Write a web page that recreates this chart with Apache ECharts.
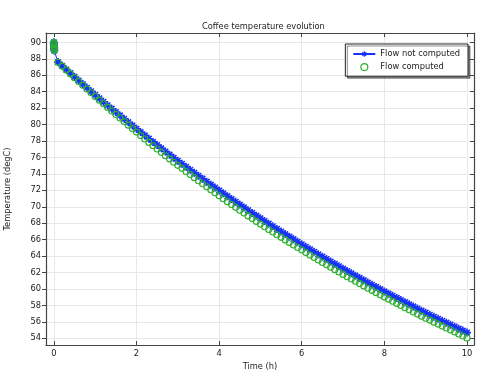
<!DOCTYPE html>
<html>
<head>
<meta charset="utf-8">
<script src="https://cdn.jsdelivr.net/npm/echarts@6/dist/echarts.min.js"></script>
<style>
  html, body { margin: 0; padding: 0; background: #fff; }
  #chart { width: 498px; height: 378px; }
</style>
</head>
<body>
<div id="chart"></div>
<script>
// time (h)
const times = [
  0, 0.001, 0.002, 0.004, 0.006, 0.008, 0.01,
  0.1, 0.2, 0.3, 0.4, 0.5, 0.6, 0.7, 0.8, 0.9, 1.0,
  1.1, 1.2, 1.3, 1.4, 1.5, 1.6, 1.7, 1.8, 1.9, 2.0,
  2.1, 2.2, 2.3, 2.4, 2.5, 2.6, 2.7, 2.8, 2.9, 3.0,
  3.1, 3.2, 3.3, 3.4, 3.5, 3.6, 3.7, 3.8, 3.9, 4.0,
  4.1, 4.2, 4.3, 4.4, 4.5, 4.6, 4.7, 4.8, 4.9, 5.0,
  5.1, 5.2, 5.3, 5.4, 5.5, 5.6, 5.7, 5.8, 5.9, 6.0,
  6.1, 6.2, 6.3, 6.4, 6.5, 6.6, 6.7, 6.8, 6.9, 7.0,
  7.1, 7.2, 7.3, 7.4, 7.5, 7.6, 7.7, 7.8, 7.9, 8.0,
  8.1, 8.2, 8.3, 8.4, 8.5, 8.6, 8.7, 8.8, 8.9, 9.0,
  9.1, 9.2, 9.3, 9.4, 9.5, 9.6, 9.7, 9.8, 9.9, 10.0
];
// Flow not computed (degC)
const flowNotComputed = [
  90, 89.85, 89.7, 89.5, 89.3, 89.15, 89.0,
  87.60, 87.15, 86.70, 86.25, 85.80, 85.36, 84.92, 84.48, 84.05, 83.62,
  83.19, 82.77, 82.35, 81.93, 81.52, 81.11, 80.70, 80.29, 79.89, 79.48,
  79.08, 78.68, 78.28, 77.89, 77.50, 77.11, 76.72, 76.34, 75.96, 75.59,
  75.23, 74.86, 74.49, 74.13, 73.77, 73.41, 73.05, 72.69, 72.34, 71.98,
  71.63, 71.28, 70.94, 70.60, 70.26, 69.92, 69.58, 69.25, 68.92, 68.59,
  68.26, 67.94, 67.62, 67.30, 66.98, 66.67, 66.36, 66.05, 65.74, 65.43,
  65.12, 64.82, 64.52, 64.22, 63.92, 63.63, 63.34, 63.05, 62.76, 62.47,
  62.18, 61.90, 61.62, 61.34, 61.06, 60.78, 60.51, 60.24, 59.97, 59.70,
  59.43, 59.17, 58.91, 58.65, 58.39, 58.13, 57.87, 57.61, 57.36, 57.11,
  56.86, 56.61, 56.37, 56.13, 55.89, 55.65, 55.41, 55.17, 54.93, 54.69
];
// Flow computed (degC)
const flowComputed = [
  90, 89.85, 89.7, 89.5, 89.3, 89.15, 89.0,
  87.58, 87.11, 86.64, 86.17, 85.70, 85.24, 84.78, 84.32, 83.87, 83.42,
  82.97, 82.53, 82.09, 81.65, 81.22, 80.79, 80.36, 79.93, 79.51, 79.08,
  78.66, 78.25, 77.83, 77.43, 77.02, 76.62, 76.21, 75.82, 75.42, 75.04,
  74.67, 74.29, 73.91, 73.54, 73.17, 72.80, 72.43, 72.06, 71.70, 71.33,
  70.97, 70.62, 70.27, 69.93, 69.58, 69.24, 68.89, 68.56, 68.22, 67.89,
  67.56, 67.24, 66.92, 66.60, 66.28, 65.97, 65.66, 65.35, 65.04, 64.73,
  64.42, 64.12, 63.82, 63.52, 63.22, 62.93, 62.64, 62.35, 62.06, 61.77,
  61.49, 61.21, 60.93, 60.65, 60.37, 60.09, 59.82, 59.55, 59.28, 59.01,
  58.76, 58.50, 58.24, 57.98, 57.72, 57.46, 57.20, 56.94, 56.69, 56.44,
  56.21, 55.96, 55.72, 55.48, 55.24, 55.00, 54.76, 54.52, 54.28, 54.04
];
const xTicks = [0, 2, 4, 6, 8, 10];
const yTicks = [54, 56, 58, 60, 62, 64, 66, 68, 70, 72, 74, 76, 78, 80, 82, 84, 86, 88, 90];

const font = 'DejaVu Sans';
const axisColor = '#444';
const gridColor = '#e8e8e8';
const blue = '#1832f8';
const green = '#2db02d';
const xMin = -0.19, xMax = 10.17;
const yMin = 53.18, yMax = 91.14;
// asterisk marker (plus + cross) built from filled bars
const star = 'path://M4 0L6 0L6 10L4 10Z' +
  'M0 4L10 4L10 6L0 6Z' +
  'M0.8 2.2L2.2 0.8L9.2 7.8L7.8 9.2Z' +
  'M7.8 0.8L9.2 2.2L2.2 9.2L0.8 7.8Z';

const chart = echarts.init(document.getElementById('chart'));

const xBase = (pos, show) => ({
  type: 'value', position: pos, min: xMin, max: xMax,
  axisLine: { show: true, onZero: false, lineStyle: { color: axisColor, width: 1.2 } },
  axisTick: { show: true, inside: true, length: 4, customValues: xTicks, lineStyle: { color: axisColor } },
  axisLabel: { show: show, customValues: xTicks, margin: 5, color: '#222', fontFamily: font, fontSize: 8.3 },
  splitLine: { show: show, lineStyle: { color: gridColor, width: 1 } }
});
const yBase = (pos, show) => ({
  type: 'value', position: pos, min: yMin, max: yMax,
  axisLine: { show: true, onZero: false, lineStyle: { color: axisColor, width: 1.2 } },
  axisTick: { show: true, inside: !show, length: 4, customValues: yTicks, lineStyle: { color: axisColor } },
  axisLabel: { show: show, customValues: yTicks, margin: 5, color: '#222', fontFamily: font, fontSize: 8.3 },
  splitLine: { show: show, lineStyle: { color: gridColor, width: 1 } }
});

const option = {
  animation: false,
  backgroundColor: '#fff',
  title: {
    text: 'Coffee temperature evolution',
    left: 197, top: 18,
    textStyle: { fontFamily: font, fontSize: 8.3, fontWeight: 'normal', color: '#222' }
  },
  grid: { left: 46, right: 24, top: 33, bottom: 33, containLabel: false, outerBoundsMode: 'none' },
  legend: {
    orient: 'vertical', right: 30, top: 44,
    padding: [6, 8, 5, 7], itemGap: 5, itemWidth: 22, itemHeight: 7,
    backgroundColor: '#fff', borderColor: '#222', borderWidth: 1,
    shadowColor: 'rgba(0,0,0,0.45)', shadowOffsetX: 2, shadowOffsetY: 2, shadowBlur: 0,
    textStyle: { fontFamily: font, fontSize: 8.3, color: '#222' },
    data: [
      'Flow not computed',
      { name: 'Flow computed', icon: 'path://M0 0A5 5 0 1 1 0 0.01Z', itemStyle: { borderWidth: 1.2, color: 'rgba(0,0,0,0)', borderColor: green } }
    ]
  },
  xAxis: [
    Object.assign(xBase('bottom', true), {
      name: 'Time (h)', nameLocation: 'middle', nameGap: 14,
      nameTextStyle: { fontFamily: font, fontSize: 8.3, color: '#222' }
    }),
    xBase('top', false)
  ],
  yAxis: [
    Object.assign(yBase('left', true), {
      name: 'Temperature (degC)', nameLocation: 'middle', nameGap: 34,
      nameTextStyle: { fontFamily: font, fontSize: 8.3, color: '#222' }
    }),
    yBase('right', false)
  ],
  series: [
    {
      name: 'Flow not computed', type: 'line',
      data: times.map((t, i) => [t, flowNotComputed[i]]),
      symbol: star, symbolSize: 8, showAllSymbol: true,
      lineStyle: { color: blue, width: 1 },
      itemStyle: { color: blue, borderWidth: 0 },
      z: 2
    },
    {
      name: 'Flow computed', type: 'scatter',
      data: times.map((t, i) => [t, flowComputed[i]]),
      symbol: 'circle', symbolSize: 6,
      itemStyle: { color: 'rgba(0,0,0,0)', borderColor: green, borderWidth: 1.1, opacity: 1 },
      z: 3
    }
  ]
};
chart.setOption(option);
</script>
</body>
</html>
